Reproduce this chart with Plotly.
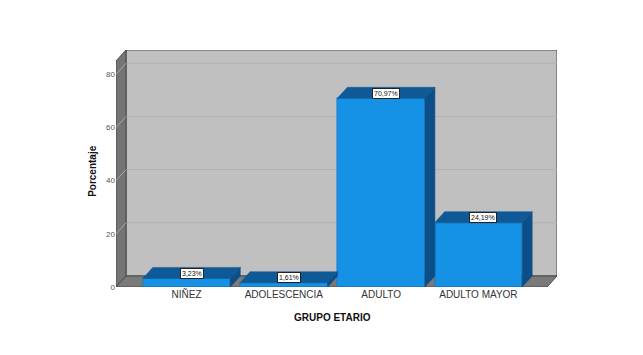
import plotly.graph_objects as go

categories = ["NIÑEZ", "ADOLESCENCIA", "ADULTO", "ADULTO MAYOR"]
percentages = [3.23, 1.61, 70.97, 24.19]
labels = ["3,23%", "1,61%", "70,97%", "24,19%"]
y_ticks = [0, 20, 40, 60, 80]

# 3D frame geometry (data units)
BAR_W = 0.9
DX = 0.103          # depth offset in x (category units)
DY = 4.14           # depth offset in y (percentage units)
X0, X1 = -0.725, 3.705
YTOP = 85.0

FRONT = "#1591e6"
TOP = "#0f5a96"
SIDE = "#0c4f88"
WALL = "#c0c0c0"
DARK = "#747474"
EDGE = "#4a4a4a"


def path(pts):
    return "M " + " L ".join(f"{x},{y}" for x, y in pts) + " Z"


shapes = []
# back wall
shapes.append(dict(type="path", xref="x", yref="y", layer="below",
                   path=path([(X0 + DX, DY), (X1 + DX, DY), (X1 + DX, YTOP + DY), (X0 + DX, YTOP + DY)]),
                   fillcolor=WALL, line=dict(color=EDGE, width=1)))
# grid lines on back wall
for t in y_ticks[1:]:
    shapes.append(dict(type="line", xref="x", yref="y", layer="below",
                       x0=X0 + DX, x1=X1 + DX, y0=t + DY, y1=t + DY,
                       line=dict(color="#b0b0b0", width=1)))
# left wall
shapes.append(dict(type="path", xref="x", yref="y", layer="below",
                   path=path([(X0, 0), (X0 + DX, DY), (X0 + DX, YTOP + DY), (X0, YTOP)]),
                   fillcolor=DARK, line=dict(color=EDGE, width=1)))
for t in y_ticks[1:]:
    shapes.append(dict(type="line", xref="x", yref="y", layer="below",
                       x0=X0, x1=X0 + DX, y0=t, y1=t + DY,
                       line=dict(color="#a8a8a8", width=1)))
# floor
shapes.append(dict(type="path", xref="x", yref="y", layer="below",
                   path=path([(X0, 0), (X1, 0), (X1 + DX, DY), (X0 + DX, DY)]),
                   fillcolor="#7a7a7a", line=dict(color=EDGE, width=1)))

fig = go.Figure()

# front faces of the bars
fig.add_trace(go.Bar(x=list(range(len(categories))), y=percentages, width=BAR_W,
                     marker=dict(color=FRONT, line=dict(color="#0e6fb8", width=0.5)),
                     hoverinfo="skip", showlegend=False))

# top and side faces
for i, v in enumerate(percentages):
    xl, xr = i - BAR_W / 2, i + BAR_W / 2
    fig.add_trace(go.Scatter(
        x=[xl, xr, xr + DX, xl + DX, xl], y=[v, v, v + DY, v + DY, v],
        fill="toself", fillcolor=TOP, mode="lines", line=dict(color=TOP, width=0.5),
        hoverinfo="skip", showlegend=False))
    fig.add_trace(go.Scatter(
        x=[xr, xr + DX, xr + DX, xr, xr], y=[0, DY, v + DY, v, 0],
        fill="toself", fillcolor=SIDE, mode="lines", line=dict(color=SIDE, width=0.5),
        hoverinfo="skip", showlegend=False))

annotations = []
for i, (v, lab) in enumerate(zip(percentages, labels)):
    annotations.append(dict(x=i + DX / 2, y=v + DY * 0.45, xref="x", yref="y", text=lab,
                            showarrow=False, bgcolor="white", bordercolor="#222222", borderwidth=1,
                            borderpad=1, font=dict(family="Liberation Sans, Arial", size=7, color="#111111")))

annotations.append(dict(x=0, y=0.49, xref="paper", yref="paper", text="<b>Porcentaje</b>",
                        textangle=-90, showarrow=False, xanchor="center", yanchor="middle", xshift=-23,
                        font=dict(family="Liberation Sans, Arial", size=10, color="#111111")))
annotations.append(dict(x=1.5, y=0, xref="x", yref="paper", text="<b>GRUPO ETARIO</b>",
                        showarrow=False, xanchor="center", yanchor="middle", yshift=-30,
                        font=dict(family="Liberation Sans, Arial", size=10, color="#111111")))

fig.update_layout(
    width=643, height=355,
    margin=dict(l=116, r=86, t=50, b=68),
    paper_bgcolor="white", plot_bgcolor="rgba(0,0,0,0)",
    shapes=shapes, annotations=annotations,
    bargap=0,
    xaxis=dict(range=[X0, X1 + DX], tickvals=list(range(len(categories))), ticktext=categories,
               showgrid=False, zeroline=False, showline=False, ticks="",
               tickfont=dict(family="Liberation Sans, Arial", size=10, color="#333333"), fixedrange=True),
    yaxis=dict(range=[0, YTOP + DY], tickvals=y_ticks, ticktext=[str(t) for t in y_ticks],
               showgrid=False, zeroline=False, showline=False, ticks="",
               tickfont=dict(family="Liberation Sans, Arial", size=8, color="#555555"), fixedrange=True),
)

fig.write_html("out.html")
